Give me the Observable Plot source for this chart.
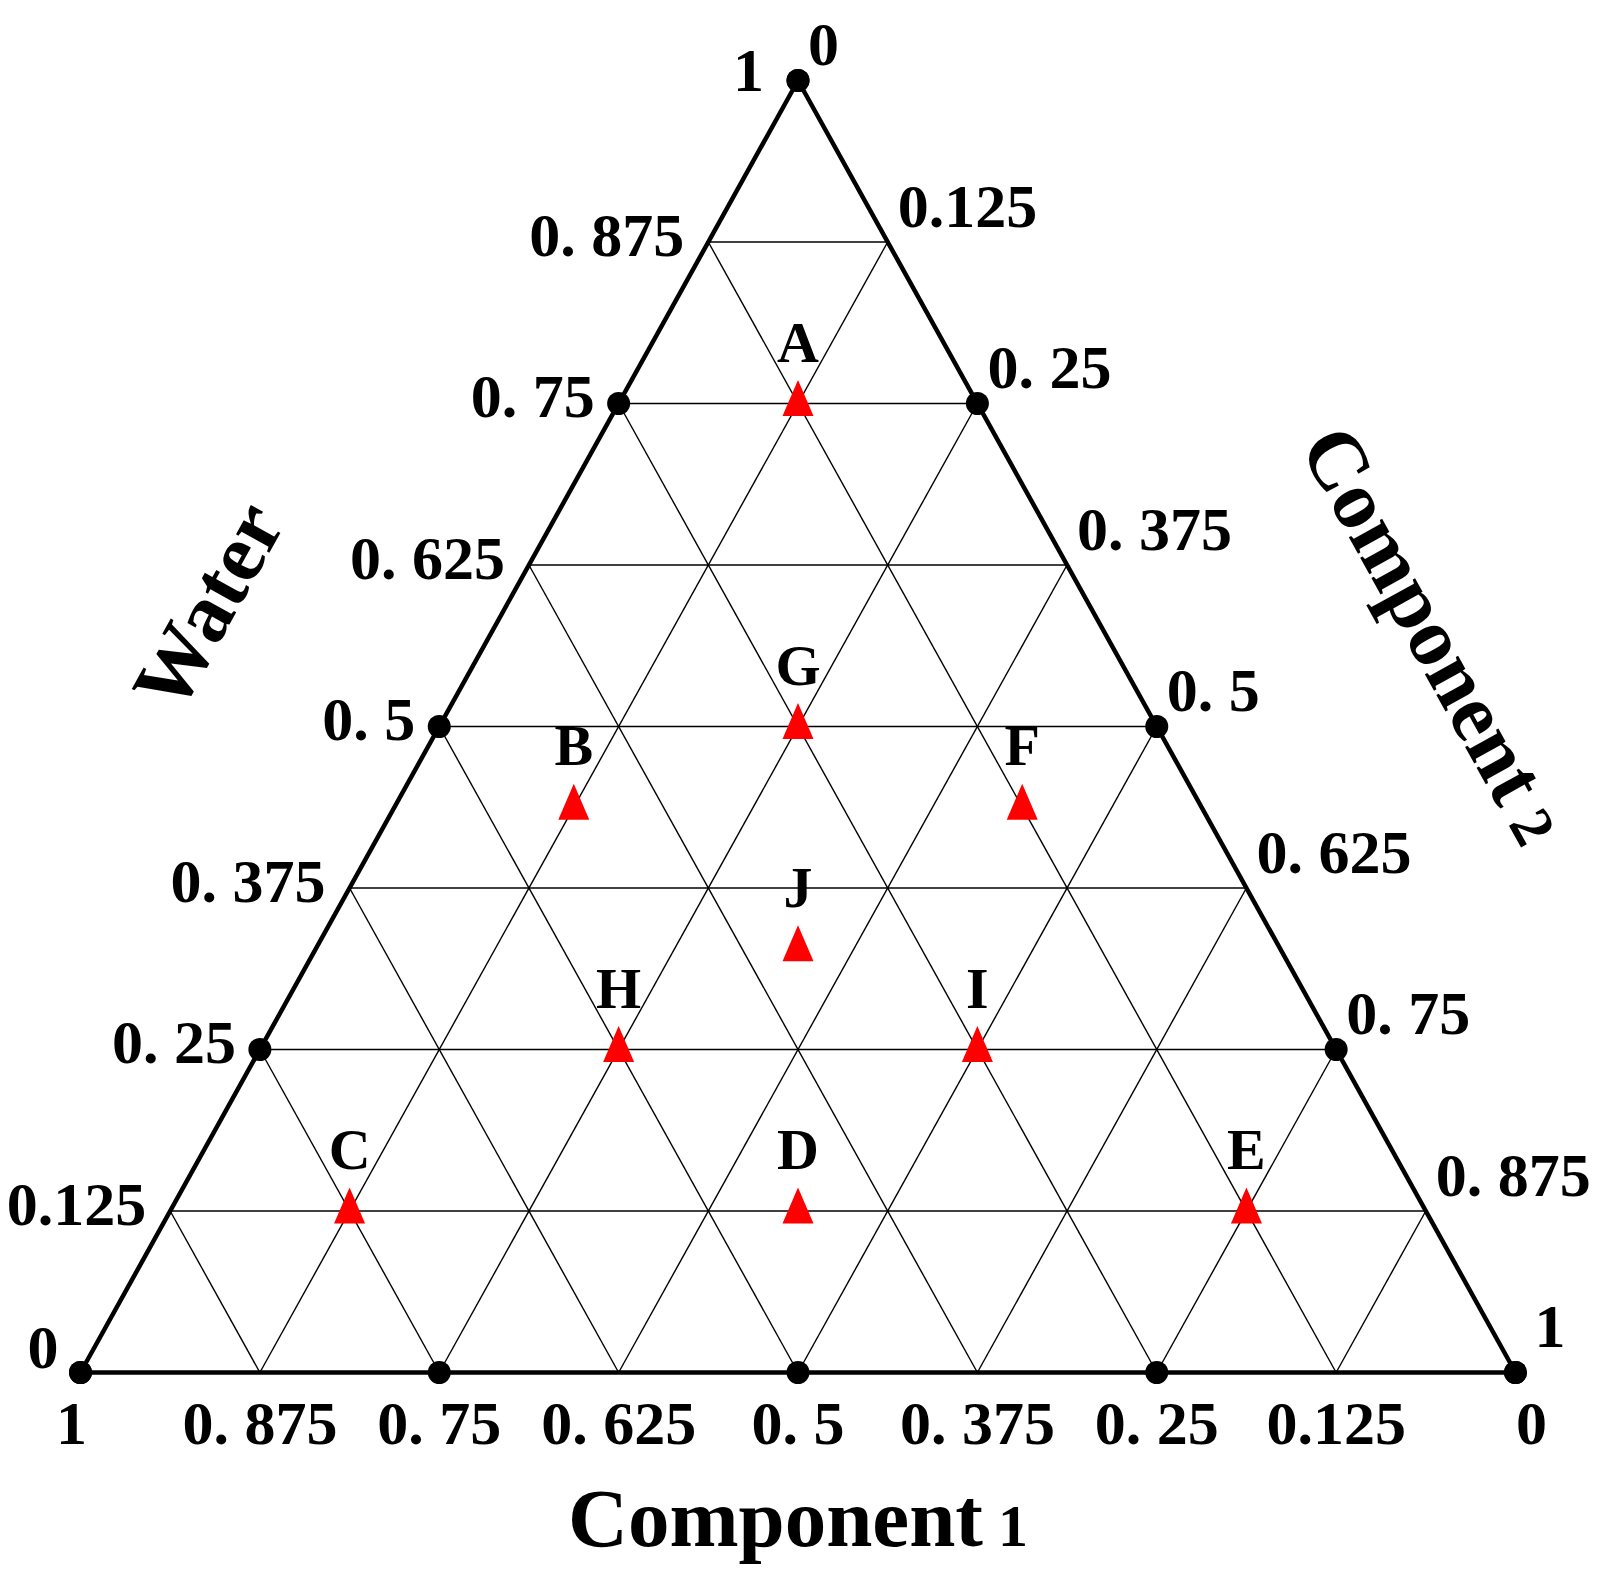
<!DOCTYPE html>
<html>
<head>
<meta charset="utf-8">
<script src="https://cdn.jsdelivr.net/npm/d3@7"></script>
<script src="https://cdn.jsdelivr.net/npm/@observablehq/plot@0.6"></script>
<style>
  html, body { margin: 0; padding: 0; background: #ffffff; }
  #chart svg { display: block; }
</style>
</head>
<body>
<div id="chart"></div>
<script>
// ---- Data (mixture design points, fractions of each component) ----
const pointNames = ["A", "B", "C", "D", "E", "F", "G", "H", "I", "J"];
const waterFrac  = [0.75, 0.4375, 0.125, 0.125, 0.125, 0.4375, 0.5, 0.25, 0.25, 0.328];
const comp1Frac  = [0.125, 0.4375, 0.75, 0.4375, 0.125, 0.125, 0.25, 0.5, 0.25, 0.336];
const comp2Frac  = [0.125, 0.125, 0.125, 0.4375, 0.75, 0.4375, 0.25, 0.25, 0.5, 0.336];

// ---- Axis ticks ----
const tickValues = [0, 0.125, 0.25, 0.375, 0.5, 0.625, 0.75, 0.875, 1];
const waterTickLabels = ["0", "0.125", "0. 25", "0. 375", "0. 5", "0. 625", "0. 75", "0. 875", "1"];
const comp2TickLabels = ["0", "0.125", "0. 25", "0. 375", "0. 5", "0. 625", "0. 75", "0. 875", "1"];
const comp1TickLabels = ["0", "0.125", "0. 25", "0. 375", "0. 5", "0. 625", "0. 75", "0. 875", "1"];
const gridLevels = [0.125, 0.25, 0.375, 0.5, 0.625, 0.75, 0.875];
const dotLevels = [0, 0.25, 0.5, 0.75, 1];

// ---- Ternary projection: x = comp2 + water/2, y = water ----
const tern = (c2, w) => ({x: c2 + w / 2, y: w});

const points = pointNames.map((name, i) => ({name, ...tern(comp2Frac[i], waterFrac[i]), c1: comp1Frac[i]}));

const segs = [];
for (const k of gridLevels) {
  segs.push([tern(0, k), tern(1 - k, k)]);     // constant water
  segs.push([tern(k, 0), tern(k, 1 - k)]);     // constant component 2
  segs.push([tern(1 - k, 0), tern(0, 1 - k)]); // constant component 1
}
const edge = [tern(0, 0), tern(1, 0), tern(0, 1), tern(0, 0)];

const edgeDots = [];
for (const v of dotLevels) {
  edgeDots.push(tern(0, v));       // left edge (water)
  edgeDots.push(tern(v, 1 - v));   // right edge (component 2)
  edgeDots.push(tern(1 - v, 0));   // bottom edge (component 1)
}

const isEnd = (v) => v === 0 || v === 1;
const leftTicks = tickValues.map((v, i) => ({...tern(0, v), v, label: waterTickLabels[i]}));
const rightTicks = tickValues.map((v, i) => ({...tern(v, 1 - v), v, label: comp2TickLabels[i]}));
const bottomTicks = tickValues.map((v, i) => ({...tern(1 - v, 0), v, label: comp1TickLabels[i]}));

// Tall triangle marker (centroid at origin)
const tallTriangle = {
  draw(context) {
    context.moveTo(0, -23.5);
    context.lineTo(15.5, 12.5);
    context.lineTo(-15.5, 12.5);
    context.closePath();
  }
};

const font = "'Liberation Serif', 'Times New Roman', serif";
const tickSize = 62;
const titleSize = 83;
const subSize = 60;
const txt = {fontWeight: "bold", fill: "#000", fontFamily: font};

const chart = Plot.plot({
  width: 1597,
  height: 1569,
  margin: 0,
  x: {domain: [0, 1], range: [80, 1515], axis: null},
  y: {domain: [0, 1], range: [1372, 80], axis: null},
  style: {background: "#ffffff", fontFamily: font},
  marks: [
    Plot.link(segs, {
      x1: (d) => d[0].x, y1: (d) => d[0].y, x2: (d) => d[1].x, y2: (d) => d[1].y,
      stroke: "#000", strokeWidth: 1.4
    }),
    Plot.line(edge, {x: "x", y: "y", stroke: "#000", strokeWidth: 4.5, strokeLinejoin: "miter"}),
    Plot.dot(edgeDots, {x: "x", y: "y", r: 11.5, fill: "#000", stroke: "none"}),
    Plot.dot(points, {x: "x", y: "y", symbol: tallTriangle, fill: "#ff0000", stroke: "none"}),
    Plot.text(points, {
      x: "x", y: "y", text: "name", dy: -42, lineAnchor: "bottom", textAnchor: "middle",
      fontSize: 58, ...txt
    }),
    // tick labels — left edge (Water)
    Plot.text(leftTicks.filter((d) => !isEnd(d.v)), {
      x: "x", y: "y", text: "label", dx: -24, dy: -6, textAnchor: "end", lineAnchor: "middle",
      fontSize: tickSize, ...txt
    }),
    Plot.text(leftTicks.filter((d) => d.v === 1), {
      x: "x", y: "y", text: "label", dx: -34, dy: -9, textAnchor: "end", lineAnchor: "middle",
      fontSize: tickSize, ...txt
    }),
    Plot.text(leftTicks.filter((d) => d.v === 0), {
      x: "x", y: "y", text: "label", dx: -22, dy: -24, textAnchor: "end", lineAnchor: "middle",
      fontSize: tickSize, ...txt
    }),
    // right edge (Component 2)
    Plot.text(rightTicks.filter((d) => d.v !== 1), {
      x: "x", y: "y", text: "label", dx: 10, dy: -35, textAnchor: "start", lineAnchor: "middle",
      fontSize: tickSize, ...txt
    }),
    Plot.text(rightTicks.filter((d) => d.v === 1), {
      x: "x", y: "y", text: "label", dx: 19, dy: -45, textAnchor: "start", lineAnchor: "middle",
      fontSize: tickSize, ...txt
    }),
    // bottom edge (Component 1)
    Plot.text(bottomTicks.filter((d) => !isEnd(d.v)), {
      x: "x", y: "y", text: "label", dx: 0, dy: 71, textAnchor: "middle", lineAnchor: "bottom",
      fontSize: tickSize, ...txt
    }),
    Plot.text(bottomTicks.filter((d) => d.v === 1), {
      x: "x", y: "y", text: "label", dx: -9, dy: 71, textAnchor: "middle", lineAnchor: "bottom",
      fontSize: tickSize, ...txt
    }),
    Plot.text(bottomTicks.filter((d) => d.v === 0), {
      x: "x", y: "y", text: "label", dx: 16, dy: 71, textAnchor: "middle", lineAnchor: "bottom",
      fontSize: tickSize, ...txt
    }),
    // axis titles
    Plot.text([tern(0.5, 0)], {
      x: "x", y: "y", text: () => "Component", dx: 185, dy: 173, textAnchor: "end", lineAnchor: "bottom",
      fontSize: titleSize, ...txt
    }),
    Plot.text([tern(0.5, 0)], {
      x: "x", y: "y", text: () => "1", dx: 200, dy: 173, textAnchor: "start", lineAnchor: "bottom",
      fontSize: subSize, ...txt
    }),
    Plot.text([tern(0, 0.5)], {
      x: "x", y: "y", text: () => "Water", dx: -230, dy: -120, rotate: -61,
      textAnchor: "middle", lineAnchor: "middle",
      fontSize: titleSize, ...txt
    }),
    Plot.text([tern(0.5, 0.5)], {
      x: "x", y: "y", text: () => "Component", dx: 343, dy: 83, rotate: 61,
      textAnchor: "end", lineAnchor: "bottom",
      fontSize: titleSize, ...txt
    }),
    Plot.text([tern(0.5, 0.5)], {
      x: "x", y: "y", text: () => "2", dx: 351, dy: 97, rotate: 61,
      textAnchor: "start", lineAnchor: "bottom",
      fontSize: subSize, ...txt
    })
  ]
});

document.getElementById("chart").appendChild(chart);
</script>
</body>
</html>
